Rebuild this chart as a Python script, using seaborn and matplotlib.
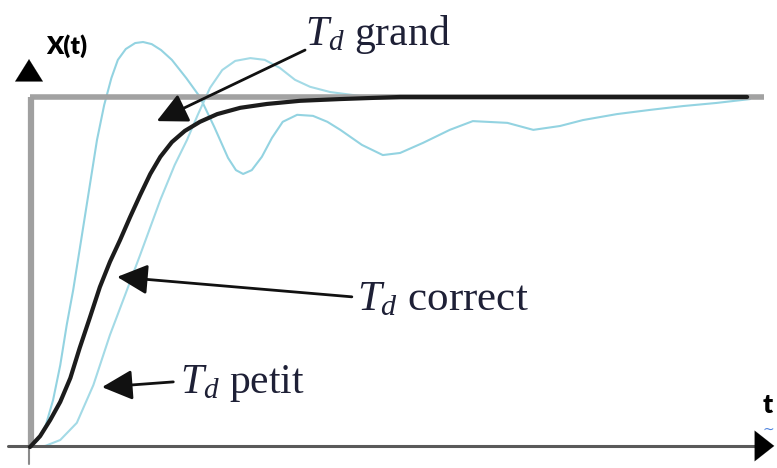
import matplotlib
matplotlib.use("Agg")
import matplotlib.pyplot as plt
import seaborn as sns

# Step responses of a regulated output X(t) for three derivative times T_d
t_correct = [0.00, 0.14, 0.28, 0.42, 0.56, 0.69, 0.83, 0.97, 1.11, 1.25, 1.39, 1.53, 1.67, 1.81, 1.97,
             2.15, 2.36, 2.60, 2.92, 3.29, 3.75, 4.31, 5.14, 9.96]
x_correct = [0.000, 0.031, 0.077, 0.129, 0.197, 0.283, 0.369, 0.457, 0.529, 0.591, 0.657, 0.720, 0.780, 0.829, 0.871,
             0.903, 0.929, 0.951, 0.969, 0.980, 0.989, 0.994, 1.000, 1.000]

t_fast = [0.00, 0.11, 0.22, 0.32, 0.42, 0.51, 0.60, 0.71, 0.82, 0.93, 1.03, 1.13, 1.22, 1.33, 1.46, 1.57,
          1.69, 1.82, 1.97, 2.17, 2.36, 2.56, 2.75, 2.86, 2.96, 3.08, 3.22, 3.36, 3.51, 3.71, 3.93, 4.13,
          4.31, 4.61, 4.90, 5.14, 5.46, 5.83, 6.15, 6.63, 6.99, 7.36, 7.68, 8.15, 8.61, 9.07, 9.54, 10.00]
x_fast = [0.000, 0.020, 0.063, 0.134, 0.234, 0.349, 0.449, 0.591, 0.734, 0.877, 0.977, 1.054, 1.106, 1.137, 1.154, 1.157,
          1.151, 1.134, 1.106, 1.054, 1.000, 0.914, 0.826, 0.791, 0.780, 0.791, 0.829, 0.883, 0.929, 0.949, 0.946, 0.929,
          0.906, 0.863, 0.834, 0.840, 0.869, 0.906, 0.931, 0.926, 0.906, 0.917, 0.934, 0.951, 0.963, 0.974, 0.983, 0.994]

t_slow = [0.00, 0.21, 0.42, 0.65, 0.88, 1.11, 1.32, 1.53, 1.81, 2.01, 2.18, 2.33, 2.50, 2.67, 2.85, 3.06,
          3.26, 3.47, 3.68, 3.89, 4.17, 4.58, 5.14, 10.00]
x_slow = [0.000, 0.003, 0.020, 0.069, 0.177, 0.320, 0.434, 0.549, 0.706, 0.806, 0.877, 0.949, 1.026, 1.077, 1.103, 1.111,
          1.106, 1.083, 1.049, 1.029, 1.014, 1.003, 1.000, 1.000]

setpoint = 1.0
t_end = 10.2

labels = [r"$T_d$ grand", r"$T_d$ correct", r"$T_d$ petit"]
label_size = [30, 31, 30]
label_pos = [(3.82, 1.149), (4.54, 0.391), (2.08, 0.154)]
arrow_tail = [(3.82, 1.134), (4.47, 0.429), (1.99, 0.186)]
arrow_tip = [(1.76, 0.931), (1.21, 0.486), (1.00, 0.171)]

sns.set_theme(style="white")
plt.rcParams["font.family"] = ["Liberation Serif", "DejaVu Serif"]
plt.rcParams["mathtext.fontset"] = "custom"
plt.rcParams["mathtext.rm"] = "Liberation Serif"
plt.rcParams["mathtext.it"] = "Liberation Serif:italic"

fig = plt.figure(figsize=(7.77, 4.68), dpi=100)
ax = fig.add_axes([0, 0, 1, 1])
ax.set_xlim(-0.417, 10.375)
ax.set_ylim(-0.06, 1.277)
ax.set_axis_off()

cyan = "#93d3e1"
sns.lineplot(x=t_fast, y=x_fast, ax=ax, color=cyan, lw=1.5, sort=False, estimator=None, zorder=2)
sns.lineplot(x=t_slow, y=x_slow, ax=ax, color="#a3dae6", lw=1.5, sort=False, estimator=None, zorder=2)

# set point and axes
ax.plot([0, t_end], [setpoint, setpoint], color="#a2a2a2", lw=4.0, solid_capstyle="butt", zorder=3)
ax.plot([0.02, 0.02], [0, setpoint], color="#a0a0a0", lw=4.5, solid_capstyle="butt", zorder=3)
ax.plot([-0.01, -0.01], [-0.05, 0], color="#8a8a8a", lw=1.5, zorder=3)
ax.plot([-0.31, t_end], [0.003, 0.003], color="#5a5a5a", lw=2.2, zorder=3)

sns.lineplot(x=t_correct, y=x_correct, ax=ax, color="#1c1c1c", lw=3.0, sort=False, estimator=None, zorder=4)

# axis arrowheads
ax.annotate("", xy=(-0.014, 1.116), xytext=(-0.014, 1.05),
            arrowprops=dict(arrowstyle="-|>,head_length=0.8,head_width=0.5", mutation_scale=20,
                            color="black", lw=0.1), zorder=5)
ax.annotate("", xy=(10.375, 0.003), xytext=(10.1, 0.003),
            arrowprops=dict(arrowstyle="-|>,head_length=0.7,head_width=0.55", mutation_scale=20,
                            color="black", lw=0.1), zorder=5)

ax.text(0.23, 1.145, "X(t)", family=["Lato", "DejaVu Sans"], fontweight="heavy", fontsize=18,
        ha="left", va="center", color="black")
ax.text(10.24, 0.120, "t", family=["Lato", "DejaVu Sans"], fontweight="heavy", fontsize=19,
        ha="center", va="center", color="black")
ax.text(10.25, 0.050, "~", family=["DejaVu Sans"], fontsize=10, ha="center", va="center", color="#4a80dc")

# curve labels with leader arrows
for txt, size, pos, tail, tip in zip(labels, label_size, label_pos, arrow_tail, arrow_tip):
    ax.text(pos[0], pos[1], txt, fontsize=size, color="#1e2036", ha="left", va="baseline", zorder=6)
    ax.annotate("", xy=tip, xytext=tail,
                arrowprops=dict(arrowstyle="-|>,head_length=0.85,head_width=0.42", mutation_scale=22,
                                color="#111111", lw=2.0, shrinkA=0, shrinkB=0), zorder=6)

fig.savefig("out.png", dpi=100)
